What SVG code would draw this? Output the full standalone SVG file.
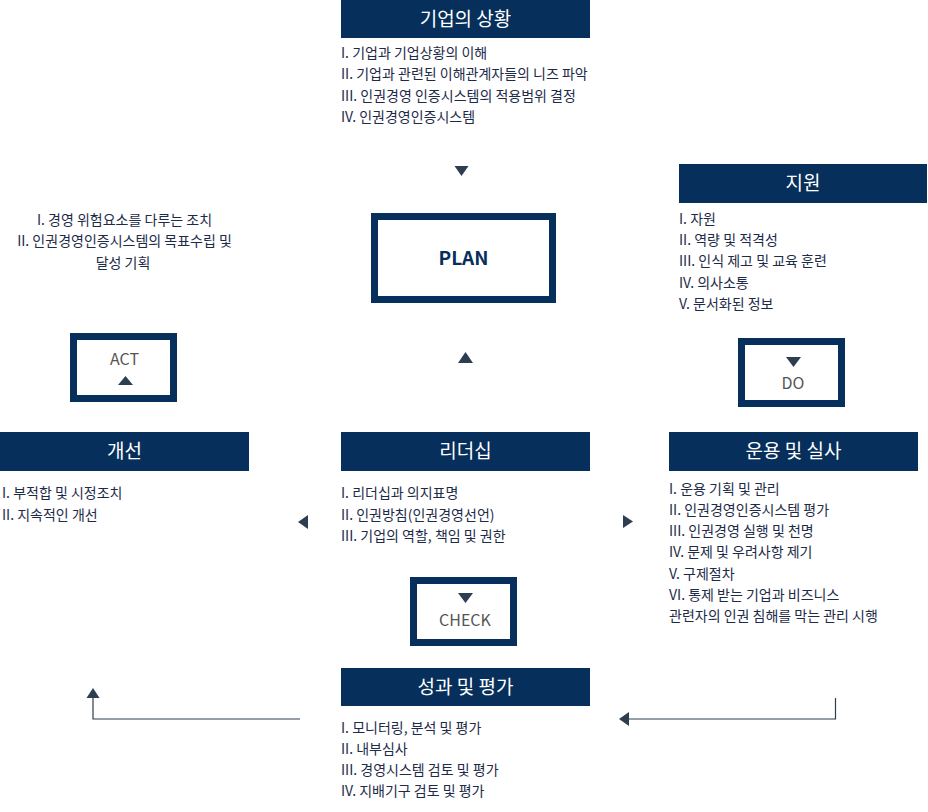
<svg xmlns="http://www.w3.org/2000/svg" width="928" height="812" viewBox="0 0 928 812">
<style>
text{font-family:"Noto Sans CJK KR","Noto Sans",sans-serif}
.hdr{fill:#072f5b}
.ht{fill:#ffffff;font-size:19px;text-anchor:middle}
.bt{fill:#1d2b48;font-size:14px}
.ct{text-anchor:middle}
.frame{fill:#ffffff;stroke:#072f5b;stroke-width:7}
.fl{fill:#555555;font-size:16px;text-anchor:middle}
.plan{fill:#072f5b;font-size:19px;font-weight:bold;text-anchor:middle}
.tri{fill:#2d3e50}
.line{fill:none;stroke:#2d3e50;stroke-width:1.2}
</style>
<rect width="928" height="812" fill="#ffffff"/>

<g id="context">
<rect class="hdr" x="341" y="0" width="249" height="38"/>
<text class="ht" x="465.5" y="25.5">기업의 상황</text>
<text class="bt" x="341" y="58">I. 기업과 기업상황의 이해</text>
<text class="bt" x="341" y="79.3">II. 기업과 관련된 이해관계자들의 니즈 파악</text>
<text class="bt" x="341" y="100.6">III. 인권경영 인증시스템의 적용범위 결정</text>
<text class="bt" x="341" y="121.9">IV. 인권경영인증시스템</text>
</g>

<g id="support">
<rect class="hdr" x="679" y="164" width="248" height="39"/>
<text class="ht" x="803" y="190">지원</text>
<text class="bt" x="679" y="224">I. 자원</text>
<text class="bt" x="679" y="245.2">II. 역량 및 적격성</text>
<text class="bt" x="679" y="266.4">III. 인식 제고 및 교육 훈련</text>
<text class="bt" x="679" y="287.6">IV. 의사소통</text>
<text class="bt" x="679" y="308.8">V. 문서화된 정보</text>
</g>

<g id="planning-text">
<text class="bt ct" x="124.5" y="225">I. 경영 위험요소를 다루는 조치</text>
<text class="bt ct" x="124.5" y="246.3">II. 인권경영인증시스템의 목표수립 및</text>
<text class="bt ct" x="123" y="267.5">달성 기획</text>
</g>

<g id="plan">
<rect class="frame" x="374.5" y="216.5" width="178" height="83"/>
<text class="plan" x="463.5" y="264.5">PLAN</text>
</g>

<g id="act">
<rect class="frame" x="73.5" y="336.5" width="100" height="62"/>
<text class="fl" x="124.5" y="365">ACT</text>
<polygon class="tri" points="125.5,376 118,385 133,385"/>
</g>

<g id="do">
<rect class="frame" x="741.5" y="341.5" width="100" height="62"/>
<polygon class="tri" points="786,357 801,357 793.5,367"/>
<text class="fl" x="793" y="389">DO</text>
</g>

<g id="improvement">
<rect class="hdr" x="0" y="432" width="249" height="39"/>
<text class="ht" x="124.5" y="458">개선</text>
<text class="bt" x="2" y="498">I. 부적합 및 시정조치</text>
<text class="bt" x="2" y="519.5">II. 지속적인 개선</text>
</g>

<g id="leadership">
<rect class="hdr" x="341" y="432" width="249" height="39"/>
<text class="ht" x="465.5" y="458">리더십</text>
<text class="bt" x="341" y="498">I. 리더십과 의지표명</text>
<text class="bt" x="341" y="519.5">II. 인권방침(인권경영선언)</text>
<text class="bt" x="341" y="541">III. 기업의 역할, 책임 및 권한</text>
</g>

<g id="operation">
<rect class="hdr" x="669" y="432" width="249" height="39"/>
<text class="ht" x="793.5" y="458">운용 및 실사</text>
<text class="bt" x="669" y="493.8">I. 운용 기획 및 관리</text>
<text class="bt" x="669" y="515">II. 인권경영인증시스템 평가</text>
<text class="bt" x="669" y="536.2">III. 인권경영 실행 및 천명</text>
<text class="bt" x="669" y="557.4">IV. 문제 및 우려사항 제기</text>
<text class="bt" x="669" y="578.6">V. 구제절차</text>
<text class="bt" x="669" y="599.8">VI. 통제 받는 기업과 비즈니스</text>
<text class="bt" x="669" y="621">관련자의 인권 침해를 막는 관리 시행</text>
</g>

<g id="check">
<rect class="frame" x="413.5" y="580.5" width="100" height="62"/>
<polygon class="tri" points="458,593 473,593 465.5,603"/>
<text class="fl" x="465" y="626">CHECK</text>
</g>

<g id="evaluation">
<rect class="hdr" x="341" y="668" width="249" height="38"/>
<text class="ht" x="465.5" y="694">성과 및 평가</text>
<text class="bt" x="341" y="733">I. 모니터링, 분석 및 평가</text>
<text class="bt" x="341" y="754">II. 내부심사</text>
<text class="bt" x="341" y="775">III. 경영시스템 검토 및 평가</text>
<text class="bt" x="341" y="796">IV. 지배기구 검토 및 평가</text>
</g>

<g id="connectors">
<polygon class="tri" points="454.5,166 468.5,166 461.5,176"/>
<polygon class="tri" points="458,363 473,363 465.5,352"/>
<polygon class="tri" points="308,515 308,529 298,522"/>
<polygon class="tri" points="623,515 623,528 633,521.5"/>
<polyline class="line" points="300,719 93,719 93,697"/>
<polygon class="tri" points="86.5,698 99.5,698 93,688"/>
<polyline class="line" points="835.5,698 835.5,719 628,719"/>
<polygon class="tri" points="629,712 629,726 619,719"/>
</g>
</svg>
